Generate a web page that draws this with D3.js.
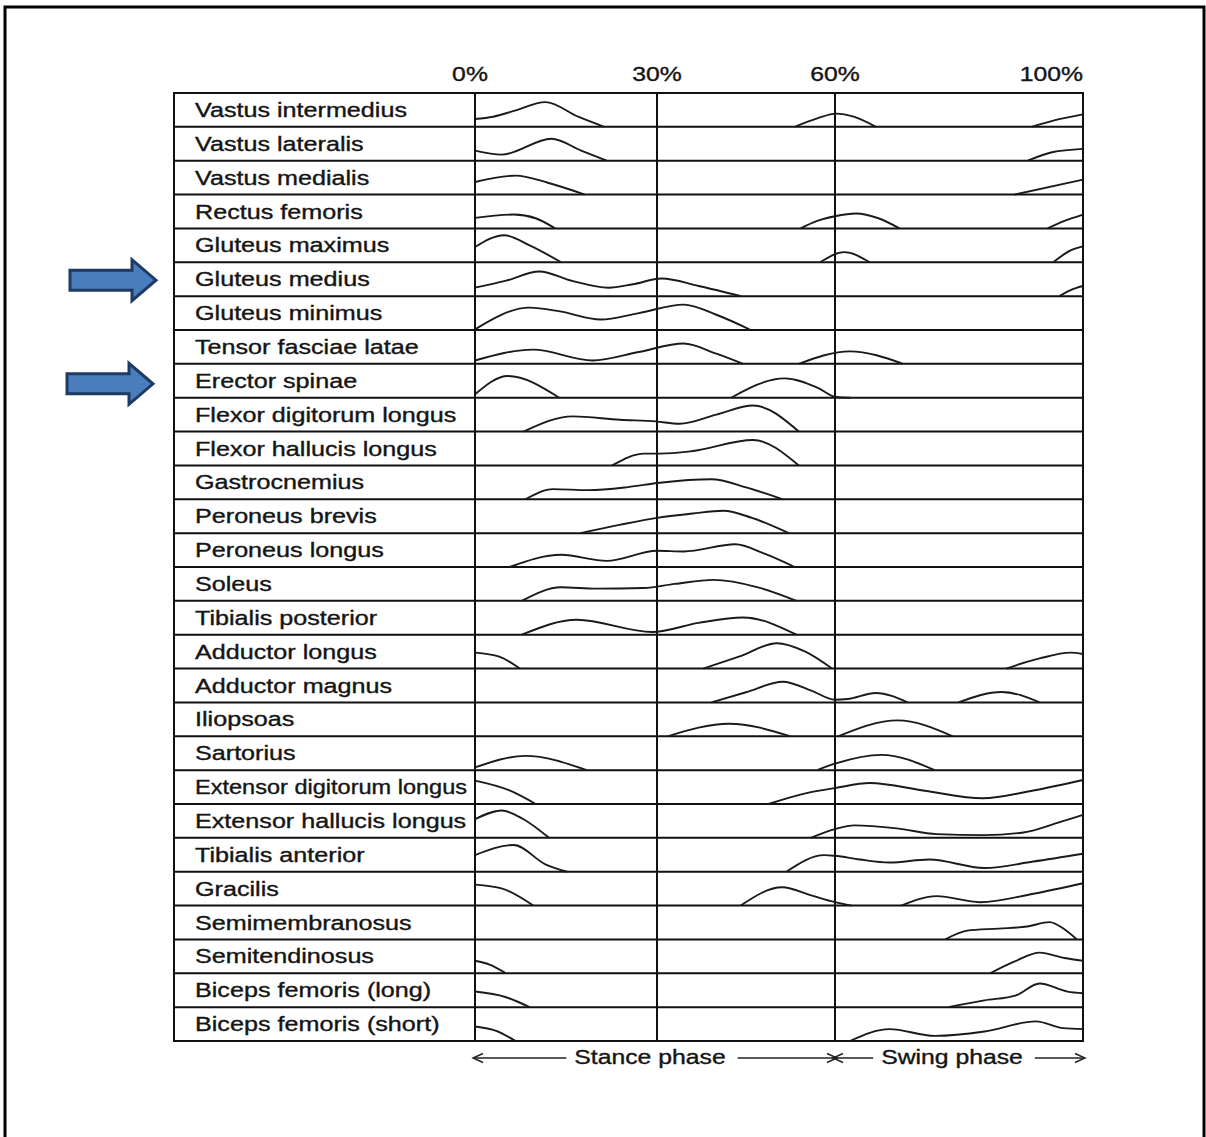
<!DOCTYPE html>
<html>
<head>
<meta charset="utf-8">
<script src="https://cdn.jsdelivr.net/npm/d3@7"></script>
<style>
  html, body { margin: 0; padding: 0; background: #fff; }
  svg { display: block; }
  text { font-family: "Liberation Sans", Arial, Helvetica, sans-serif; fill: #151515; stroke: #151515; stroke-width: 0.35px; }
</style>
</head>
<body>
<div id="chart"></div>
<script>
var muscles = [
  "Vastus intermedius", "Vastus lateralis", "Vastus medialis", "Rectus femoris",
  "Gluteus maximus", "Gluteus medius", "Gluteus minimus", "Tensor fasciae latae",
  "Erector spinae", "Flexor digitorum longus", "Flexor hallucis longus", "Gastrocnemius",
  "Peroneus brevis", "Peroneus longus", "Soleus", "Tibialis posterior",
  "Adductor longus", "Adductor magnus", "Iliopsoas", "Sartorius",
  "Extensor digitorum longus", "Extensor hallucis longus", "Tibialis anterior", "Gracilis",
  "Semimembranosus", "Semitendinosus", "Biceps femoris (long)", "Biceps femoris (short)"
];
var tickPcts = [0, 30, 60, 100];
var tickLabels = ["0%", "30%", "60%", "100%"];
var phaseNames = ["Stance phase", "Swing phase"];
var phaseRanges = [[0, 60], [60, 100]];
var flagged = ["Gluteus medius", "Erector spinae"];

// bursts of activity: [% of gait cycle, height relative to the row]
var vastusIntermedius = [
  [[0,0.23],[3,0.3],[6.4,0.47],[11.6,0.73],[17,0.3],[21.3,0]],
  [[53.2,0],[57,0.25],[60.2,0.39],[63,0.3],[66.6,0]],
  [[91.7,0],[95.5,0.2],[100,0.37]]
];
var vastusLateralis = [
  [[0,0.3],[4.4,0.18],[12.6,0.65],[17.5,0.3],[21.7,0]],
  [[91.1,0],[95,0.25],[100,0.35]]
];
var vastusMedialis = [
  [[0,0.37],[6.7,0.56],[12,0.35],[18.1,0]],
  [[88.9,0],[100,0.44]]
];
var rectusFemoris = [
  [[0,0.31],[6.4,0.41],[10,0.3],[13.2,0]],
  [[54.2,0],[57,0.22],[60,0.36],[63.4,0.44],[67,0.3],[70.4,0]],
  [[94.3,0],[97,0.22],[100,0.41]]
];
var gluteusMaximus = [
  [[0,0.45],[4.8,0.8],[9,0.5],[14.2,0]],
  [[57.5,0],[61.5,0.3],[65.6,0]],
  [[95.2,0],[98,0.35],[100,0.47]]
];
var gluteusMedius = [
  [[0,0.25],[5,0.45],[10.6,0.73],[16,0.45],[22,0.25],[26,0.35],[30.8,0.52],[37,0.3],[44.2,0]],
  [[96.2,0],[98,0.18],[100,0.3]]
];
var gluteusMinimus = [
  [[0,0.02],[9,0.66],[14,0.55],[20.7,0.31],[27,0.5],[34.5,0.75],[40,0.45],[45.8,0]]
];
var tensorFasciaeLatae = [
  [[0,0.1],[9.6,0.42],[19.4,0.1],[27,0.35],[34.5,0.6],[40,0.3],[44.5,0]],
  [[53.9,0],[62.4,0.37],[71,0]]
];
var erectorSpinae = [
  [[0,0.1],[5.4,0.64],[13.9,0]],
  [[42.5,0],[51.5,0.57],[57,0.3],[60.2,0.02],[62.5,0]]
];
var flexorDigitorumLongus = [
  [[8,0],[16.1,0.45],[23.9,0.35],[29.8,0.3],[33.8,0.23],[40,0.5],[46.2,0.77],[53.9,0]]
];
var flexorHallucisLongus = [
  [[22.6,0],[27.9,0.35],[30.5,0.35],[35.8,0.42],[46.2,0.75],[53.9,0]]
];
var gastrocnemius = [
  [[8.3,0],[12.9,0.3],[18.7,0.27],[25.2,0.36],[30.5,0.49],[39.2,0.59],[45,0.35],[51.2,0]]
];
var peroneusBrevis = [
  [[17.4,0],[24,0.25],[30,0.45],[36,0.58],[41.2,0.66],[46,0.45],[52.2,0]]
];
var peroneusLongus = [
  [[5.7,0],[14.2,0.36],[21.7,0.18],[30,0.48],[34.5,0.46],[43.2,0.67],[48,0.4],[53.2,0]]
];
var soleus = [
  [[7.7,0],[14.2,0.4],[20,0.36],[27.8,0.38],[33,0.5],[39.5,0.62],[47,0.4],[53.5,0]]
];
var tibialisPosterior = [
  [[7.7,0],[16.8,0.44],[29.2,0.08],[37,0.35],[44.5,0.51],[53.5,0]]
];
var adductorLongus = [
  [[0,0.47],[4,0.35],[7.4,0]],
  [[37.8,0],[43.8,0.35],[50.2,0.75],[55,0.5],[59.5,0]],
  [[87.6,0],[93,0.3],[98,0.47],[100,0.43]]
];
var adductorMagnus = [
  [[39.2,0],[45,0.3],[51.2,0.61],[56,0.35],[60,0.08],[62,0.1],[66.6,0.28],[71.7,0]],
  [[79.9,0],[86.9,0.31],[93,0]]
];
var iliopsoas = [
  [[31.8,0],[42.2,0.37],[52.5,0]],
  [[60.5,0],[70.1,0.47],[79,0]]
];
var sartorius = [
  [[0,0.08],[8.3,0.42],[18.4,0]],
  [[57,0],[60,0.19],[67.5,0.45],[76.1,0]]
];
var extensorDigitorumLongus = [
  [[0,0.69],[5.7,0.4],[10,0]],
  [[48.8,0],[55.2,0.32],[60,0.47],[65.6,0.62],[74.5,0.39],[83.8,0.17],[92,0.4],[100,0.71]]
];
var extensorHallucisLongus = [
  [[0,0.55],[4.4,0.81],[8,0.55],[12.2,0]],
  [[55.9,0],[60,0.26],[63.1,0.37],[70,0.28],[76.4,0.11],[84,0.08],[90.4,0.16],[96,0.45],[100,0.68]]
];
var tibialisAnterior = [
  [[0,0.49],[6.4,0.79],[11.6,0.22],[15.2,0]],
  [[51.8,0],[58.2,0.49],[60,0.47],[64,0.36],[68.8,0.27],[75.2,0.36],[84.1,0.11],[92,0.3],[100,0.53]]
];
var gracilis = [
  [[0,0.62],[4.5,0.5],[9.6,0]],
  [[44.1,0],[51.1,0.54],[56,0.3],[60,0.1],[62.7,0]],
  [[70.7,0],[76.4,0.28],[83.4,0.1],[92,0.35],[100,0.66]]
];
var semimembranosus = [
  [[77.8,0],[81.3,0.26],[86.4,0.32],[91,0.38],[94.6,0.51],[97,0.3],[99,0]]
];
var semitendinosus = [
  [[0,0.37],[2.5,0.25],[5.1,0]],
  [[85,0],[89,0.35],[93,0.61],[97,0.45],[100,0.37]]
];
var bicepsFemorisLong = [
  [[0,0.46],[5,0.3],[9,0]],
  [[78.3,0],[84.1,0.2],[89.2,0.35],[93,0.7],[97.5,0.46],[100,0.41]]
];
var bicepsFemorisShort = [
  [[0,0.43],[3.5,0.3],[6.7,0]],
  [[62.4,0],[68.8,0.35],[76.1,0.15],[84.1,0.28],[92.4,0.58],[96.8,0.38],[100,0.35]]
];

var bursts = [
  vastusIntermedius, vastusLateralis, vastusMedialis, rectusFemoris,
  gluteusMaximus, gluteusMedius, gluteusMinimus, tensorFasciaeLatae,
  erectorSpinae, flexorDigitorumLongus, flexorHallucisLongus, gastrocnemius,
  peroneusBrevis, peroneusLongus, soleus, tibialisPosterior,
  adductorLongus, adductorMagnus, iliopsoas, sartorius,
  extensorDigitorumLongus, extensorHallucisLongus, tibialisAnterior, gracilis,
  semimembranosus, semitendinosus, bicepsFemorisLong, bicepsFemorisShort
];

var width = 1206, height = 1137;
var tableLeft = 174, tableTop = 93, tableBottom = 1041;
var nameX = 195;
var stretch = 1.27;   // the source lettering is wider than the font
var fontSize = 19.5;

var svg = d3.select('#chart').append('svg')
  .attr('width', width)
  .attr('height', height);

// page frame
svg.append('rect')
  .attr('x', 5).attr('y', 7)
  .attr('width', 1199).attr('height', 1160)
  .attr('fill', 'none')
  .attr('stroke', '#000')
  .attr('stroke-width', 3);

// the gait cycle axis is not quite linear in the drawing
var x = d3.scaleLinear()
  .domain(tickPcts)
  .range([475, 657, 835, 1083]);

var y = d3.scaleBand()
  .domain(muscles)
  .range([tableTop, tableBottom]);

function stretchedText(sel, tx, ty, sx) {
  return sel.attr('transform', 'translate(' + tx + ',' + ty + ') scale(' + (sx || stretch) + ',1)')
    .attr('font-size', fontSize + 'px');
}

// grid
var grid = svg.append('g')
  .attr('stroke', '#111')
  .attr('stroke-width', 2)
  .attr('fill', 'none');

grid.selectAll('line.row')
  .data(muscles.slice(1))
  .enter().append('line')
  .attr('class', 'row')
  .attr('x1', tableLeft).attr('x2', x(100))
  .attr('y1', function (d) { return y(d); })
  .attr('y2', function (d) { return y(d); });

grid.selectAll('line.col')
  .data(tickPcts.slice(1, 3))
  .enter().append('line')
  .attr('class', 'col')
  .attr('x1', function (d) { return x(d); })
  .attr('x2', function (d) { return x(d); })
  .attr('y1', tableTop).attr('y2', tableBottom);

grid.append('line')
  .attr('x1', x(0)).attr('x2', x(0))
  .attr('y1', tableTop).attr('y2', tableBottom);

grid.append('rect')
  .attr('x', tableLeft).attr('y', tableTop)
  .attr('width', x(100) - tableLeft)
  .attr('height', tableBottom - tableTop);

// muscle names, squeezed when they would run into the graph column
var maxNameW = x(0) - nameX - 8;
svg.selectAll('text.name')
  .data(muscles)
  .enter().append('text')
  .attr('class', 'name')
  .text(function (d) { return d; })
  .each(function (d) {
    var t = d3.select(this);
    stretchedText(t, nameX, y(d) + y.bandwidth() / 2 + 7, 1.29);
    var w = this.getComputedTextLength();
    var sx = Math.min(1.29, maxNameW / w);
    stretchedText(t, nameX, y(d) + y.bandwidth() / 2 + 7, sx);
  });

// percent ticks
svg.selectAll('text.tick')
  .data(tickPcts)
  .enter().append('text')
  .attr('class', 'tick')
  .attr('text-anchor', function (d, i) { return i === tickPcts.length - 1 ? 'end' : 'middle'; })
  .text(function (d, i) { return tickLabels[i]; })
  .each(function (d, i) {
    var tx = i === 0 ? x(d) - 5 : x(d);
    stretchedText(d3.select(this), tx, 81);
  });

// EMG bursts
var line = d3.line()
  .x(function (d) { return x(d[0]); })
  .curve(d3.curveMonotoneX);

muscles.forEach(function (name, i) {
  var lvl = d3.scaleLinear()
    .domain([0, 1])
    .range([y(name) + y.bandwidth(), y(name)]);
  line.y(function (d) { return lvl(d[1]); });
  svg.append('g')
    .selectAll('path')
    .data(bursts[i])
    .enter().append('path')
    .attr('d', line)
    .attr('fill', 'none')
    .attr('stroke', '#1a1a1a')
    .attr('stroke-width', 1.9);
});

// phase arrows under the table
var arrowY = 1058;
function chevron(tipX, dir) {
  return 'M' + (tipX - dir * 10) + ',' + (arrowY - 4.5) + 'L' + tipX + ',' + arrowY +
    'L' + (tipX - dir * 10) + ',' + (arrowY + 4.5);
}

phaseNames.forEach(function (label, i) {
  var a = x(phaseRanges[i][0]), b = x(phaseRanges[i][1]);
  var mid = (a + b) / 2 - (i === 0 ? 5 : 7);
  var t = svg.append('text')
    .attr('text-anchor', 'middle')
    .text(label);
  stretchedText(t, mid, 1064);
  var w = t.node().getComputedTextLength() * stretch;
  var g = svg.append('g')
    .attr('stroke', '#222')
    .attr('stroke-width', 1.4)
    .attr('fill', 'none');
  g.append('line')
    .attr('x1', a - 2).attr('x2', mid - w / 2 - 8)
    .attr('y1', arrowY).attr('y2', arrowY);
  g.append('line')
    .attr('x1', mid + w / 2 + 12).attr('x2', b + 2)
    .attr('y1', arrowY).attr('y2', arrowY);
  g.append('path').attr('d', chevron(a - 2, -1));
  g.append('path').attr('d', chevron(b + 2, 1));
});

// blue marker arrows pointing at highlighted rows
svg.selectAll('path.marker')
  .data(flagged)
  .enter().append('path')
  .attr('class', 'marker')
  .attr('d', function (d, i) {
    var cy = y(d) + y.bandwidth() / 2 + (i === 0 ? 1 : 3);
    var x0 = i === 0 ? 70 : 67;
    return 'M' + x0 + ',' + (cy - 10) +
      'H' + (x0 + 62) + 'V' + (cy - 20.5) +
      'L' + (x0 + 86) + ',' + cy +
      'L' + (x0 + 62) + ',' + (cy + 20.5) +
      'V' + (cy + 10) + 'H' + x0 + 'Z';
  })
  .attr('fill', '#4a7dbd')
  .attr('stroke', '#1f3a63')
  .attr('stroke-width', 3)
  .attr('stroke-linejoin', 'miter');
</script>
</body>
</html>
